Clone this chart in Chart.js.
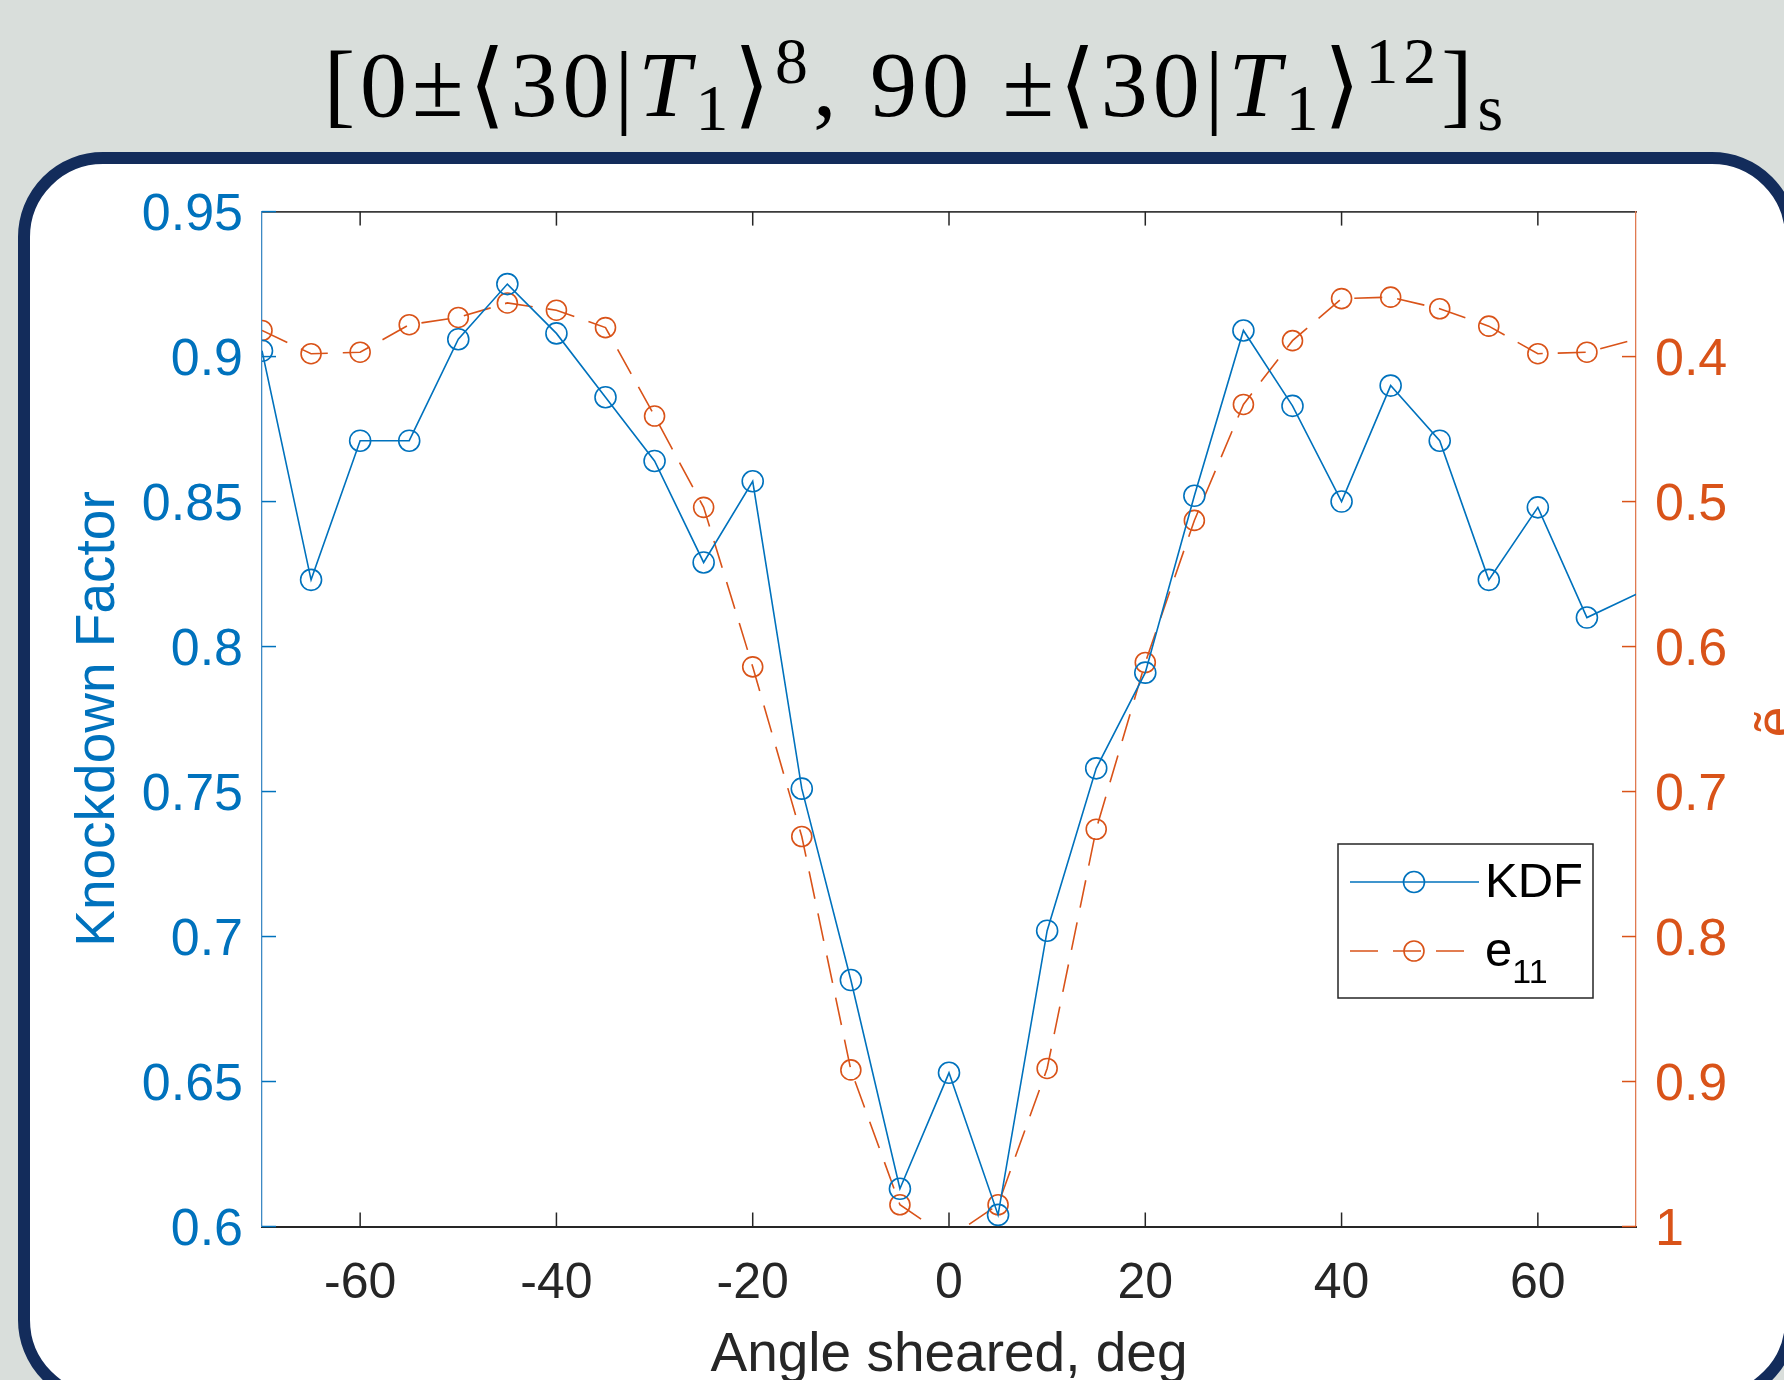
<!DOCTYPE html>
<html>
<head>
<meta charset="utf-8">
<title>Knockdown factor vs angle sheared</title>
<script src="https://cdn.jsdelivr.net/npm/chart.js@4.4.1/dist/chart.umd.min.js"></script>
<style>
  html, body { margin: 0; padding: 0; }
  body { width: 1784px; height: 1380px; overflow: hidden; position: relative; background: #d9dedb; }
  #frame { position: absolute; left: 18px; top: 152px; width: 1779px; height: 1253px; box-sizing: border-box;
           border: 12px solid #132c5b; border-radius: 85px; background: #fff; }
  #title { position: absolute; left: 916px; top: 37px; transform: translateX(-50%); white-space: nowrap;
           font-family: 'Liberation Serif', 'DejaVu Serif', serif; font-size: 94px; line-height: 1;
           letter-spacing: 5px; color: #000; }
  #title sub, #title sup { font-size: 0.7em; line-height: 0; }
  #title sub { vertical-align: -0.22em; }
  #title sup { vertical-align: 0.5em; }
  #chart { position: absolute; left: 0; top: 0; }
</style>
</head>
<body>
<div id="frame"></div>
<div id="title">[0±⟨30|<i>T</i><sub>1</sub>⟩<sup>8</sup>, 90 ±⟨30|<i>T</i><sub>1</sub>⟩<sup>12</sup>]<sub>s</sub></div>
<canvas id="chart" width="1784" height="1420"></canvas>
<script>
'use strict'

// angle sheared (deg) - last point lies past the axis limit, only its line shows
const angles = [-70, -65, -60, -55, -50, -45, -40, -35, -30, -25, -20, -15, -10, -5, 0,
                5, 10, 15, 20, 25, 30, 35, 40, 45, 50, 55, 60, 65, 75];
const kdf = [0.902, 0.823, 0.871, 0.871, 0.906, 0.925, 0.908, 0.886, 0.864, 0.829, 0.857, 0.751, 0.685, 0.613, 0.653,
             0.604, 0.702, 0.758, 0.791, 0.852, 0.909, 0.883, 0.850, 0.890, 0.871, 0.823, 0.848, 0.810, 0.826];
const e11 = [0.382, 0.398, 0.397, 0.378, 0.373, 0.363, 0.368, 0.380, 0.441, 0.504, 0.614, 0.731, 0.892, 0.985, 1.008,
             0.985, 0.891, 0.726, 0.611, 0.513, 0.433, 0.389, 0.360, 0.359, 0.367, 0.379, 0.398, 0.397, 0.379];

const xTicks = [-60, -40, -20, 0, 20, 40, 60];
const kdfTicks = [0.6, 0.65, 0.7, 0.75, 0.8, 0.85, 0.9, 0.95];
const e11Ticks = [0.4, 0.5, 0.6, 0.7, 0.8, 0.9, 1];

const blue = '#0072bd';
const orange = '#d95319';
const dark = '#262626';
const TICK = 14;

Chart.defaults.font.family = "'Liberation Sans', Arial, sans-serif";

function fmt(v) { return String(+v.toFixed(2)); }

function stroke(ctx, x1, y1, x2, y2) {
  ctx.beginPath();
  ctx.moveTo(x1, y1);
  ctx.lineTo(x2, y2);
  ctx.stroke();
}

// matlab style ticks pointing into the box
const inwardTicks = {
  id: 'inwardTicks',
  beforeDatasetsDraw(chart) {
    const { ctx, chartArea: a, scales } = chart;
    ctx.save();
    ctx.lineWidth = 1.5;
    ctx.strokeStyle = dark;
    xTicks.forEach(v => {
      const px = scales.x.getPixelForValue(v);
      stroke(ctx, px, a.bottom, px, a.bottom - TICK);
      stroke(ctx, px, a.top, px, a.top + TICK);
    });
    ctx.strokeStyle = blue;
    kdfTicks.forEach(v => {
      const py = scales.y.getPixelForValue(v);
      stroke(ctx, a.left, py, a.left + TICK, py);
    });
    ctx.strokeStyle = orange;
    e11Ticks.forEach(v => {
      const py = scales.y2.getPixelForValue(v);
      stroke(ctx, a.right, py, a.right - TICK, py);
    });
    ctx.restore();
  }
};

// legend box inside the axes, with subscript for e11
const boxLegend = {
  id: 'boxLegend',
  afterDatasetsDraw(chart) {
    const ctx = chart.ctx;
    const x = 1338, y = 844, w = 255, h = 154;
    ctx.save();
    ctx.fillStyle = '#fff';
    ctx.fillRect(x, y, w, h);
    ctx.strokeStyle = dark;
    ctx.lineWidth = 1.5;
    ctx.strokeRect(x, y, w, h);

    chart.data.datasets.forEach((ds, i) => {
      const ly = y + 38 + i * 69;
      ctx.strokeStyle = ds.borderColor;
      ctx.lineWidth = ds.borderWidth;
      ctx.setLineDash(ds.borderDash || []);
      stroke(ctx, x + 12, ly, x + 141, ly);
      ctx.setLineDash([]);
      ctx.lineWidth = ds.pointBorderWidth;
      ctx.beginPath();
      ctx.arc(x + 76, ly, ds.pointRadius, 0, Math.PI * 2);
      ctx.stroke();

      ctx.fillStyle = '#000';
      ctx.textBaseline = 'middle';
      ctx.textAlign = 'left';
      ctx.font = "49px 'Liberation Sans', Arial, sans-serif";
      ctx.fillText(ds.labelMain, x + 147, ly + 1);
      if (ds.labelSub) {
        const mw = ctx.measureText(ds.labelMain).width;
        ctx.font = "34px 'Liberation Sans', Arial, sans-serif";
        ctx.fillText(ds.labelSub, x + 147 + mw, ly + 23);
      }
    });
    ctx.restore();
  }
};

// right axis label, rotated like matlab (reads upward), mostly off the page
const rightTitle = {
  id: 'rightTitle',
  afterDraw(chart) {
    const ctx = chart.ctx;
    ctx.save();
    ctx.translate(1779, 722);
    ctx.rotate(-Math.PI / 2);
    ctx.fillStyle = orange;
    ctx.font = "55px 'Liberation Sans', Arial, sans-serif";
    ctx.textAlign = 'center';
    ctx.textBaseline = 'middle';
    ctx.fillText('ẽ', 0, 0);
    ctx.restore();
  }
};

function setTicks(list) {
  return scale => { scale.ticks = list.map(v => ({ value: v })); };
}

new Chart(document.getElementById('chart'), {
  type: 'line',
  data: {
    datasets: [
      {
        label: 'KDF', labelMain: 'KDF',
        data: angles.map((a, i) => ({ x: a, y: kdf[i] })),
        yAxisID: 'y',
        borderColor: blue, borderWidth: 1.6,
        pointRadius: 10.5, pointBorderWidth: 1.6, pointBorderColor: blue,
        pointBackgroundColor: 'rgba(0,0,0,0)', pointHoverRadius: 10.5,
        tension: 0, fill: false
      },
      {
        label: 'e11', labelMain: 'e', labelSub: '11',
        data: angles.map((a, i) => ({ x: a, y: e11[i] })),
        yAxisID: 'y2',
        borderColor: orange, borderWidth: 1.6, borderDash: [28, 15],
        pointRadius: 10, pointBorderWidth: 1.6, pointBorderColor: orange,
        pointBackgroundColor: 'rgba(0,0,0,0)', pointHoverRadius: 10,
        tension: 0, fill: false
      }
    ]
  },
  options: {
    responsive: false,
    animation: false,
    devicePixelRatio: 1,
    events: [],
    layout: { padding: 0 },
    plugins: { legend: { display: false }, tooltip: { enabled: false } },
    scales: {
      x: {
        type: 'linear', position: 'bottom', min: -70, max: 70,
        afterBuildTicks: setTicks(xTicks),
        afterFit: s => { s.height = 1420 - 1226.5; },
        grid: { display: false },
        border: { color: dark, width: 2 },
        ticks: { color: dark, font: { size: 50 }, padding: 20, maxRotation: 0, callback: v => fmt(v) },
        title: { display: true, text: 'Angle sheared, deg', color: dark, font: { size: 55 }, padding: { top: 0, bottom: 31 } }
      },
      xTop: {
        type: 'linear', position: 'top', min: -70, max: 70,
        afterFit: s => { s.height = 211.6; },
        grid: { display: false },
        border: { color: '#3a3a3a', width: 1.8 },
        ticks: { display: false }
      },
      y: {
        type: 'linear', position: 'left', min: 0.6, max: 0.95,
        afterBuildTicks: setTicks(kdfTicks),
        afterFit: s => { s.width = 262; },
        grid: { display: false },
        border: { color: '#3d89c4', width: 1.3 },
        ticks: { color: blue, font: { size: 52 }, padding: 11, labelOffset: 4, callback: v => fmt(v) },
        title: { display: true, text: 'Knockdown Factor', color: blue, font: { size: 55 }, padding: { top: 66, bottom: 0 } }
      },
      y2: {
        type: 'linear', position: 'right', min: 0.3, max: 1, reverse: true,
        afterBuildTicks: setTicks(e11Ticks),
        afterFit: s => { s.width = 1784 - 1636; },
        grid: { display: false },
        border: { color: '#e07a50', width: 1.3 },
        ticks: { color: orange, font: { size: 52 }, padding: 11, labelOffset: 4, callback: v => fmt(v) }
      }
    }
  },
  plugins: [inwardTicks, boxLegend, rightTitle]
});
</script>
</body>
</html>
